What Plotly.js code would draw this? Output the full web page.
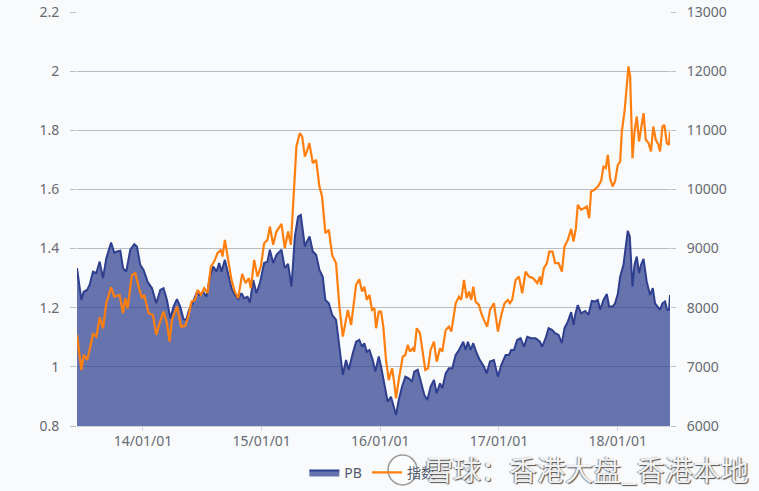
<!DOCTYPE html>
<html>
<head>
<meta charset="utf-8">
<script src="https://cdn.plot.ly/plotly-3.0.1.min.js"></script>
<style>
html,body{margin:0;padding:0;background:#f9fafc;}
#chart{width:759px;height:491px;}
</style>
</head>
<body>
<div id="chart"></div>
<script>
// x positions are decimal years
const pbYears = [2013.444,2013.481,2013.500,2013.529,2013.550,2013.579,2013.607,2013.635,2013.663,2013.691,2013.731,2013.758,2013.781,2013.809,2013.832,2013.859,2013.893,2013.927,2013.949,2013.977,2014.005,2014.039,2014.076,2014.112,2014.146,2014.173,2014.202,2014.230,2014.258,2014.286,2014.314,2014.342,2014.365,2014.386,2014.423,2014.451,2014.480,2014.508,2014.535,2014.564,2014.592,2014.620,2014.642,2014.662,2014.690,2014.718,2014.746,2014.774,2014.802,2014.830,2014.853,2014.881,2014.901,2014.929,2014.956,2014.985,2015.021,2015.049,2015.069,2015.097,2015.125,2015.167,2015.195,2015.223,2015.251,2015.280,2015.307,2015.330,2015.364,2015.383,2015.404,2015.431,2015.459,2015.487,2015.515,2015.537,2015.566,2015.594,2015.627,2015.655,2015.684,2015.711,2015.734,2015.768,2015.796,2015.823,2015.846,2015.865,2015.886,2015.908,2015.936,2015.958,2015.987,2016.006,2016.034,2016.062,2016.090,2016.110,2016.132,2016.155,2016.183,2016.211,2016.239,2016.267,2016.286,2016.315,2016.343,2016.371,2016.396,2016.424,2016.452,2016.475,2016.503,2016.522,2016.551,2016.578,2016.606,2016.635,2016.663,2016.699,2016.719,2016.738,2016.761,2016.783,2016.812,2016.839,2016.873,2016.896,2016.924,2016.957,2016.991,2017.019,2017.056,2017.084,2017.103,2017.126,2017.153,2017.182,2017.210,2017.238,2017.271,2017.308,2017.345,2017.364,2017.395,2017.418,2017.446,2017.473,2017.502,2017.530,2017.552,2017.580,2017.608,2017.628,2017.642,2017.664,2017.692,2017.726,2017.754,2017.782,2017.810,2017.833,2017.852,2017.881,2017.909,2017.928,2017.957,2017.978,2018.001,2018.021,2018.049,2018.069,2018.085,2018.102,2018.125,2018.142,2018.161,2018.180,2018.197,2018.218,2018.245,2018.273,2018.296,2018.315,2018.344,2018.357,2018.377,2018.399,2018.416,2018.433,2018.441];
const pbValues = [1.334,1.226,1.254,1.26,1.277,1.322,1.317,1.356,1.30,1.367,1.42,1.386,1.39,1.393,1.334,1.322,1.396,1.415,1.407,1.345,1.328,1.288,1.266,1.215,1.26,1.266,1.226,1.164,1.204,1.229,1.204,1.161,1.159,1.19,1.221,1.249,1.243,1.254,1.237,1.305,1.339,1.322,1.351,1.322,1.362,1.317,1.266,1.243,1.229,1.249,1.232,1.237,1.217,1.294,1.249,1.283,1.351,1.356,1.396,1.351,1.379,1.396,1.334,1.348,1.271,1.441,1.508,1.514,1.407,1.425,1.441,1.39,1.379,1.328,1.305,1.226,1.215,1.176,1.159,1.068,0.973,1.023,0.99,1.046,1.085,1.091,1.068,1.08,1.051,1.057,1.023,0.984,1.035,1.001,0.944,0.882,0.899,0.865,0.837,0.888,0.933,0.967,0.961,0.95,0.984,0.99,0.944,0.905,0.888,0.933,0.956,0.911,0.944,0.928,0.978,0.995,0.995,1.04,1.057,1.085,1.057,1.085,1.057,1.08,1.046,1.023,1.001,0.978,1.018,1.023,0.967,1.006,1.04,1.04,1.057,1.057,1.091,1.097,1.068,1.102,1.097,1.097,1.085,1.068,1.1,1.131,1.125,1.114,1.108,1.08,1.131,1.153,1.185,1.142,1.176,1.209,1.181,1.189,1.176,1.223,1.221,1.226,1.193,1.226,1.246,1.204,1.204,1.215,1.246,1.305,1.345,1.407,1.46,1.441,1.271,1.345,1.373,1.317,1.345,1.365,1.288,1.243,1.266,1.215,1.198,1.193,1.215,1.221,1.193,1.193,1.243];

const idxYears = [2013.444,2013.481,2013.500,2013.529,2013.550,2013.579,2013.607,2013.635,2013.663,2013.691,2013.731,2013.758,2013.803,2013.832,2013.851,2013.870,2013.907,2013.935,2013.963,2013.992,2014.011,2014.047,2014.084,2014.112,2014.140,2014.173,2014.202,2014.224,2014.244,2014.286,2014.322,2014.356,2014.384,2014.409,2014.438,2014.460,2014.488,2014.516,2014.544,2014.572,2014.600,2014.628,2014.657,2014.670,2014.690,2014.718,2014.746,2014.774,2014.802,2014.836,2014.864,2014.892,2014.909,2014.937,2014.965,2014.993,2015.021,2015.049,2015.069,2015.097,2015.125,2015.167,2015.195,2015.223,2015.246,2015.274,2015.293,2015.322,2015.341,2015.364,2015.383,2015.402,2015.431,2015.459,2015.487,2015.509,2015.537,2015.566,2015.594,2015.627,2015.655,2015.684,2015.711,2015.726,2015.754,2015.773,2015.796,2015.823,2015.846,2015.865,2015.886,2015.908,2015.930,2015.950,2015.964,2015.987,2016.006,2016.025,2016.048,2016.071,2016.099,2016.118,2016.132,2016.160,2016.189,2016.211,2016.231,2016.250,2016.273,2016.286,2016.307,2016.334,2016.357,2016.379,2016.402,2016.424,2016.452,2016.475,2016.503,2016.522,2016.551,2016.578,2016.598,2016.635,2016.663,2016.682,2016.705,2016.727,2016.747,2016.766,2016.783,2016.803,2016.831,2016.850,2016.873,2016.901,2016.924,2016.957,2016.991,2017.019,2017.047,2017.075,2017.092,2017.111,2017.140,2017.168,2017.196,2017.224,2017.252,2017.288,2017.322,2017.345,2017.355,2017.378,2017.403,2017.423,2017.451,2017.473,2017.502,2017.530,2017.552,2017.580,2017.608,2017.628,2017.648,2017.664,2017.692,2017.721,2017.740,2017.760,2017.776,2017.805,2017.833,2017.861,2017.881,2017.900,2017.917,2017.936,2017.957,2017.978,2018.001,2018.021,2018.035,2018.058,2018.076,2018.091,2018.105,2018.125,2018.142,2018.161,2018.180,2018.197,2018.218,2018.237,2018.260,2018.281,2018.300,2018.321,2018.344,2018.357,2018.377,2018.394,2018.414,2018.433,2018.441];
const idxValues = [7540,6947,7201,7117,7286,7557,7511,7839,7653,8076,8347,8188,8217,7907,8161,7991,8555,8584,8357,8161,8217,7907,7878,7540,7738,7934,7738,7426,7794,8019,7680,7692,7870,8103,8132,8301,8217,8329,8245,8695,8780,8922,8978,8865,9147,8809,8470,8272,8161,8572,8414,8499,8329,8809,8526,8695,9091,9147,9372,9063,9288,9418,9007,9288,9063,10049,10726,10953,10896,10557,10650,10783,10445,10501,10049,9880,9260,9316,8893,8753,8019,7511,7849,7963,7709,8019,8386,8482,8272,8357,8132,8217,7963,7991,7653,7934,7934,7680,7117,6778,6976,6722,6469,6834,7173,7201,7370,7257,7314,7257,7653,7568,7257,6947,6975,7286,7426,7088,7314,7257,7624,7680,7596,8076,8188,8132,8470,8161,8272,8132,8357,8103,8047,7907,7794,7680,7963,8076,7596,7878,8076,8132,8076,8132,8470,8526,8245,8611,8526,8499,8414,8526,8386,8668,8750,8949,8949,8753,8753,8611,9034,9147,9333,9119,9345,9739,9655,9683,9711,9514,9965,9993,10049,10145,10387,10360,10585,10191,10049,10134,10416,10472,10980,11318,11826,12080,11910,10529,10980,11233,10810,11036,11289,10839,10783,10641,11064,10839,10755,10641,11064,11093,10783,10755,10980];

const yearTicks = [2014, 2015, 2016, 2017, 2018];
const yearLabels = ['14/01/01', '15/01/01', '16/01/01', '17/01/01', '18/01/01'];
const seriesNames = ['PB', '指数'];
const watermark = '雪球：香港大盘_香港本地';

const tickFont = {family: 'Noto Sans, Open Sans, sans-serif', size: 14, color: '#666a73'};

const traces = [
  {
    x: pbYears, y: pbValues, name: seriesNames[0], type: 'scatter', mode: 'lines',
    fill: 'tozeroy', fillcolor: 'rgba(46,63,143,0.72)',
    line: {color: '#2e3f8f', width: 2}, yaxis: 'y', hoverinfo: 'skip'
  },
  {
    x: idxYears, y: idxValues, name: seriesNames[1], type: 'scatter', mode: 'lines',
    line: {color: '#ff7f0e', width: 2.2}, yaxis: 'y2', hoverinfo: 'skip'
  }
];

const layout = {
  width: 759, height: 491,
  margin: {l: 77, r: 89, t: 12, b: 65, autoexpand: false},
  paper_bgcolor: '#f9fafc', plot_bgcolor: '#f9fafc',
  showlegend: true,
  legend: {
    orientation: 'h', xref: 'container', yref: 'container',
    x: 0.401, xanchor: 'left', y: 0.037, yanchor: 'middle',
    font: {family: 'Noto Sans, Noto Sans CJK SC, sans-serif', size: 14, color: '#555a6e'},
    bgcolor: 'rgba(0,0,0,0)', itemwidth: 30, tracegroupgap: 0
  },
  xaxis: {
    range: [pbYears[0], pbYears[pbYears.length - 1]],
    tickvals: yearTicks, ticktext: yearLabels,
    showgrid: false, zeroline: false,
    showline: true, linecolor: '#cfd3dc', linewidth: 1,
    ticks: 'outside', ticklen: 4, tickcolor: '#cfd3dc',
    ticklabelstandoff: -2,
    tickfont: tickFont
  },
  yaxis: {
    range: [0.8, 2.2], dtick: 0.2, tick0: 0.8,
    showgrid: true, gridcolor: '#b9bcc2', gridwidth: 1,
    zeroline: false, showline: false,
    ticks: 'outside', ticklen: 6, tickcolor: '#b9bcc2',
    ticklabelstandoff: 8,
    tickfont: tickFont
  },
  yaxis2: {
    range: [6000, 13000], dtick: 1000, tick0: 6000, tickformat: 'd',
    overlaying: 'y', side: 'right',
    showgrid: false, zeroline: false, showline: false,
    ticks: 'outside', ticklen: 5, tickcolor: '#b9bcc2',
    ticklabelstandoff: 8,
    tickfont: tickFont
  },
  shapes: [
    {type: 'circle', xref: 'paper', yref: 'paper', x0: 0.5245, x1: 0.5734, y0: -0.07, y1: -0.1425,
     line: {color: 'rgba(90,90,90,0.6)', width: 1.5}, fillcolor: 'rgba(255,255,255,0.35)', layer: 'above'}
  ],
  annotations: [
    {text: watermark, xref: 'paper', yref: 'paper', x: 0.86, y: -0.105, xanchor: 'center', yanchor: 'middle',
     showarrow: false,
     font: {family: 'Noto Sans CJK SC, sans-serif', size: 28, color: 'rgba(255,255,255,0.92)',
            shadow: '1px 1px 1px #444, -1px 0px 1px #888'}}
  ]
};

Plotly.newPlot('chart', traces, layout, {staticPlot: true, displayModeBar: false});
</script>
</body>
</html>
